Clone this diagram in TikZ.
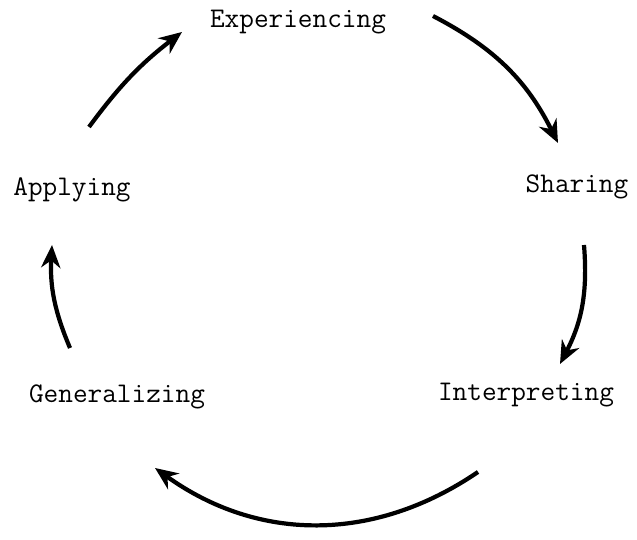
\documentclass[tikz,border=0pt]{standalone}
\usetikzlibrary{arrows.meta}

\begin{document}
\begin{tikzpicture}
        [x=0.02cm,y=0.02cm,line width=2.4pt,
        every node/.style={font=\ttfamily\fontsize{16.2}{19}\selectfont,inner sep=0pt},
        cyclearrow/.style={-{Stealth[length=13pt,width=11pt]},line width=2.4pt}]
        \useasboundingbox (0,0) rectangle (637,540);
        %% stages
        \node (exp) at (298,518) {Experiencing};
        \node (shr) at (577,353) {Sharing};
        \node (int) at (526,145) {Interpreting};
        \node (gen) at (117,143) {Generalizing};
        \node (app) at (72,350) {Applying};
        %% arrow ends
        \coordinate (e1) at (433,524);
        \coordinate (s0) at (558,397);
        \coordinate (s1) at (584,295);
        \coordinate (i0) at (560,176);
        \coordinate (i1) at (478,68);
        \coordinate (g0) at (155,72);
        \coordinate (g1) at (70,192);
        \coordinate (a0) at (52,295);
        \coordinate (a1) at (89,413);
        \coordinate (e0) at (182,508);
        \path
        \foreach \startNode/\endNode/\bend in {e1/s0/18, s1/i0/16, i1/g0/35, g1/a0/13, a1/e0/8}
        {
          (\startNode) edge[cyclearrow,bend left=\bend] (\endNode)
        };
\end{tikzpicture}
\end{document}
